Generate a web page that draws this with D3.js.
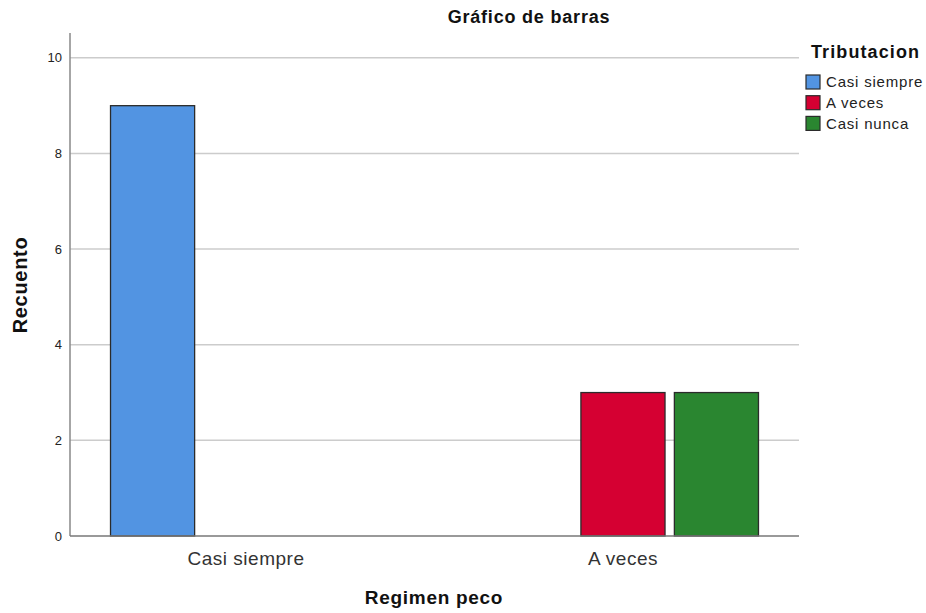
<!DOCTYPE html>
<html lang="es">
<head>
  <meta charset="UTF-8">
  <script src="https://d3js.org/d3.v7.min.js"></script>
  <style>
    body { margin: 0; background: #fff; }
    svg { display: block; font-family: "Liberation Sans", Arial, sans-serif; }
    .grid line { stroke: #cccccc; stroke-width: 1.5px; }
    .bar { stroke: #2b2b2b; stroke-width: 1.3px; }
  </style>
</head>
<body>
  <div id="chart"></div>
  <script>
    // categories (x axis) and series (legend)
    const categories = ['Casi siempre', 'A veces'];
    const series = ['Casi siempre', 'A veces', 'Casi nunca'];
    const colors = ['#5294e2', '#d50032', '#2a8630'];
    // counts per series, one value per category
    const casiSiempre = [9, 0];
    const aVeces = [0, 3];
    const casiNunca = [0, 3];
    const yTicks = [0, 2, 4, 6, 8, 10];

    const seriesValues = [casiSiempre, aVeces, casiNunca];

    const width = 926, height = 613;
    const plotLeft = 70, plotRight = 799, plotTop = 33, plotBottom = 536;

    const svg = d3.select('#chart').append('svg')
      .attr('width', width).attr('height', height);

    const x0 = d3.scaleBand().domain(categories)
      .range([plotLeft, plotRight]).paddingInner(0.281).paddingOuter(0.1075);
    const x1 = d3.scaleBand().domain(series)
      .range([0, x0.bandwidth()]).paddingInner(0.1).paddingOuter(0);
    const y = d3.scaleLinear().domain([0, 10.52]).range([plotBottom, plotTop]);

    // grid lines
    svg.append('g').attr('class', 'grid')
      .selectAll('line').data(yTicks.filter(d => d > 0)).enter().append('line')
      .attr('x1', plotLeft).attr('x2', plotRight)
      .attr('y1', d => y(d)).attr('y2', d => y(d));

    // bars
    const rows = [];
    categories.forEach((c, i) => {
      series.forEach((s, j) => {
        if (seriesValues[j][i] > 0) rows.push({ c, s, v: seriesValues[j][i], color: colors[j] });
      });
    });
    svg.append('g').selectAll('rect').data(rows).enter().append('rect')
      .attr('class', 'bar')
      .attr('x', d => x0(d.c) + x1(d.s))
      .attr('y', d => y(d.v))
      .attr('width', x1.bandwidth())
      .attr('height', d => y(0) - y(d.v))
      .attr('fill', d => d.color);

    // axes lines
    svg.append('line').attr('x1', plotLeft).attr('x2', plotLeft).attr('y1', plotTop).attr('y2', plotBottom)
      .attr('stroke', '#888').attr('stroke-width', 1.5);
    svg.append('line').attr('x1', plotLeft).attr('x2', plotRight).attr('y1', plotBottom).attr('y2', plotBottom)
      .attr('stroke', '#777').attr('stroke-width', 1.5);

    // y tick labels
    svg.append('g').selectAll('text').data(yTicks).enter().append('text')
      .attr('x', plotLeft - 8).attr('y', d => y(d)).attr('dy', '0.35em')
      .attr('text-anchor', 'end').attr('font-size', 13).attr('fill', '#222')
      .text(d => d);

    // x tick labels
    svg.append('g').selectAll('text').data(categories).enter().append('text')
      .attr('x', d => x0(d) + x0.bandwidth() / 2).attr('y', 565)
      .attr('text-anchor', 'middle').attr('font-size', 19)
      .attr('letter-spacing', 0.5).attr('fill', '#333')
      .text(d => d);

    // titles
    svg.append('text').attr('x', 529).attr('y', 23).attr('text-anchor', 'middle')
      .attr('font-size', 18).attr('font-weight', 'bold').attr('letter-spacing', 0.8)
      .attr('fill', '#111')
      .text('Gráfico de barras');
    svg.append('text').attr('x', 434).attr('y', 604).attr('text-anchor', 'middle')
      .attr('font-size', 19).attr('font-weight', 'bold').attr('letter-spacing', 0.7)
      .attr('fill', '#111')
      .text('Regimen peco');
    svg.append('text').attr('transform', 'translate(27,285) rotate(-90)')
      .attr('text-anchor', 'middle')
      .attr('font-size', 20).attr('font-weight', 'bold').attr('letter-spacing', 0.7)
      .attr('fill', '#111')
      .text('Recuento');

    // legend
    const legend = svg.append('g').attr('transform', 'translate(806,0)');
    legend.append('text').attr('x', 5).attr('y', 58)
      .attr('font-size', 18).attr('font-weight', 'bold').attr('letter-spacing', 1.1)
      .attr('fill', '#111')
      .text('Tributacion');
    const items = legend.selectAll('g.item').data(series).enter().append('g')
      .attr('transform', (d, i) => `translate(0,${75 + i * 20.7})`);
    items.append('rect').attr('width', 14).attr('height', 14)
      .attr('fill', (d, i) => colors[i]).attr('stroke', '#2b2b2b').attr('stroke-width', 1.2);
    items.append('text').attr('x', 20).attr('y', 7).attr('dy', '0.35em')
      .attr('font-size', 15).attr('letter-spacing', 0.8).attr('fill', '#222')
      .text(d => d);
  </script>
</body>
</html>
